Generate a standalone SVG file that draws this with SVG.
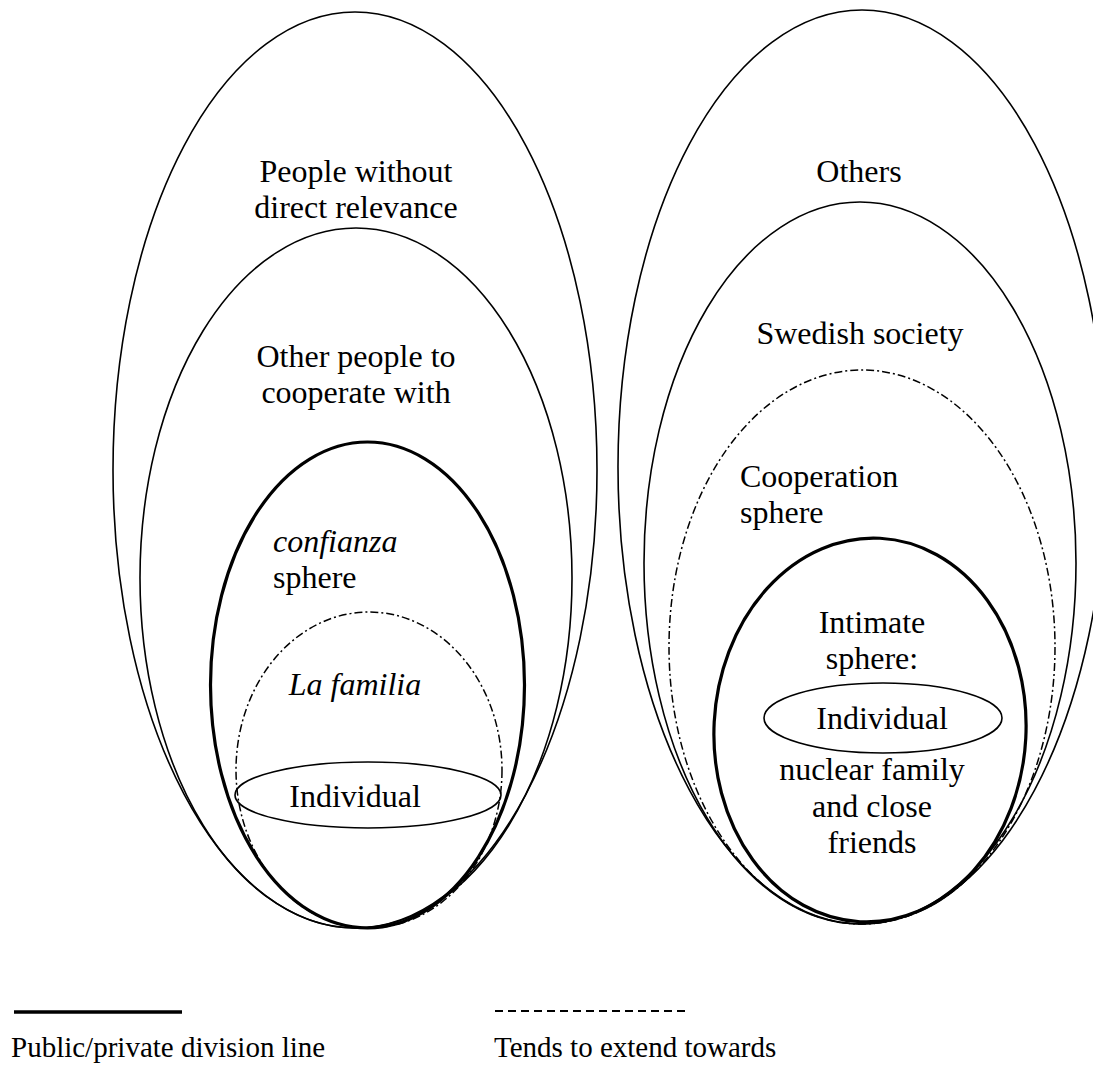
<svg xmlns="http://www.w3.org/2000/svg" width="1093" height="1068" viewBox="0 0 1093 1068">
<style>
.thin{fill:none;stroke:#000;stroke-width:1.6}
.thick{fill:none;stroke:#000;stroke-width:3.2}
.dash{fill:none;stroke:#000;stroke-width:1.5;stroke-dasharray:8 3 2 3}
text{font-family:"Liberation Serif","Times New Roman",serif;font-size:32px;fill:#000}
.c{text-anchor:middle}
.i{font-style:italic}
.leg{font-size:29px}
</style>
<rect width="1093" height="1068" fill="#fff"/>
<g id="left">
  <g id="l-outer"><ellipse class="thin" cx="355" cy="470" rx="242" ry="458"/>
    <text class="c" x="356" y="182">People without</text><text class="c" x="356" y="218">direct relevance</text></g>
  <g id="l-coop"><ellipse class="thin" cx="356" cy="578" rx="216" ry="350"/>
    <text class="c" x="356" y="367">Other people to</text><text class="c" x="356" y="403">cooperate with</text></g>
  <g id="l-confianza"><ellipse class="thick" cx="367.5" cy="685" rx="157" ry="243"/>
    <text class="i" x="273" y="552">confianza</text><text x="273" y="588">sphere</text></g>
  <g id="l-familia"><ellipse class="dash" cx="369" cy="770" rx="133" ry="158"/>
    <text class="c i" x="355" y="695">La familia</text></g>
  <g id="l-individual"><ellipse class="thin" cx="368" cy="795" rx="133" ry="33"/>
    <text class="c" x="355" y="807">Individual</text></g>
</g>
<g id="right">
  <g id="r-outer"><ellipse class="thin" cx="862" cy="467" rx="244" ry="457"/>
    <text class="c" x="859" y="182">Others</text></g>
  <g id="r-swedish"><ellipse class="thin" cx="860" cy="563" rx="216" ry="361"/>
    <text class="c" x="860" y="344">Swedish society</text></g>
  <g id="r-cooperation"><ellipse class="dash" cx="862" cy="647" rx="193" ry="277"/>
    <text x="740" y="487">Cooperation</text><text x="740" y="523">sphere</text></g>
  <g id="r-intimate"><ellipse class="thick" cx="870" cy="730" rx="156" ry="192" transform="rotate(3 870 730)"/>
    <text class="c" x="872" y="633">Intimate</text><text class="c" x="872" y="669">sphere:</text>
    <text class="c" x="872" y="780">nuclear family</text><text class="c" x="872" y="817">and close</text><text class="c" x="872" y="853">friends</text></g>
  <g id="r-individual"><ellipse class="thin" cx="883" cy="718" rx="119" ry="35"/>
    <text class="c" x="882" y="729">Individual</text></g>
</g>
<g id="legend">
  <line x1="14" y1="1012" x2="182" y2="1012" stroke="#000" stroke-width="3.5"/>
  <text class="leg" x="11" y="1057">Public/private division line</text>
  <line x1="495" y1="1011" x2="687" y2="1011" stroke="#000" stroke-width="2" stroke-dasharray="8 5"/>
  <text class="leg" x="494" y="1057">Tends to extend towards</text>
</g>
</svg>
